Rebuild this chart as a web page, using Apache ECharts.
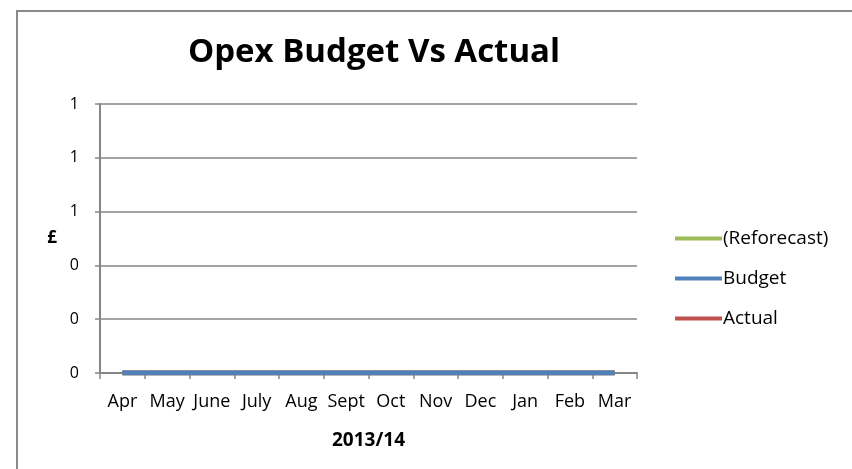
<!DOCTYPE html>
<html>
<head>
<meta charset="utf-8">
<script src="https://cdn.jsdelivr.net/npm/echarts@6/dist/echarts.min.js"></script>
<style>
html,body{margin:0;padding:0;background:#fff}
#frame{position:absolute;left:16px;top:10px;width:900px;height:500px;border-left:2px solid #8a8a8a;border-top:2px solid #8a8a8a}
#main{position:absolute;left:0;top:0;width:852px;height:469px}
</style>
</head>
<body>
<div id="frame"></div>
<div id="main"></div>
<script>
var months=['Apr','May','June','July','Aug','Sept','Oct','Nov','Dec','Jan','Feb','Mar']
var reforecast=[0,0,0,0,0,0,0,0,0,0,0,0]
var budget=[0,0,0,0,0,0,0,0,0,0,0,0]
var actual=[0,0,0,0,0,0,0,0,0,0,0,0]
var yTicks=['0','0','0','1','1','1'] // excel rounds 0.2 steps to whole numbers

var font='"Open Sans", sans-serif'
var myChart=echarts.init(document.getElementById('main'))
var option={
    animation:false,
    textStyle:{fontFamily:font},
    title:{
        text:'Opex Budget Vs Actual',
        left:369,
        top:31,
        textAlign:'center',
        textStyle:{fontSize:33,fontWeight:'bold',color:'#000',fontFamily:font}
    },
    legend:{
        orient:'vertical',
        left:670,
        top:224,
        itemWidth:47,
        itemHeight:4,
        itemGap:21,
        icon:'rect',
        textStyle:{fontSize:19,color:'#000',padding:[0,0,0,-4]},
        data:['(Reforecast)','Budget','Actual']
    },
    grid:{left:100,top:104,width:537,height:269},
    xAxis:{
        type:'category',
        data:months,
        name:'2013/14',
        nameLocation:'middle',
        nameGap:58,
        nameTextStyle:{fontSize:19,fontWeight:'bold',color:'#000'},
        axisLine:{lineStyle:{color:'#868686',width:2}},
        axisTick:{show:true,length:6,lineStyle:{color:'#868686',width:1.5}},
        axisLabel:{fontSize:18,color:'#000',margin:20,interval:0}
    },
    yAxis:{
        type:'value',
        min:0,max:1,interval:0.2,
        name:'£',
        nameLocation:'middle',
        nameRotate:0,
        nameGap:43,
        nameTextStyle:{fontSize:17,fontWeight:'bold',color:'#000'},
        axisLine:{show:true,lineStyle:{color:'#868686',width:2}},
        axisTick:{show:true,length:5,lineStyle:{color:'#868686',width:1.5}},
        splitLine:{lineStyle:{color:'#868686',width:1.5}},
        axisLabel:{fontSize:16,color:'#000',margin:21,
            formatter:function(v){return yTicks[Math.round(v/0.2)]}}
    },
    series:[
        {name:'(Reforecast)',type:'line',data:reforecast,symbol:'none',
         lineStyle:{width:5,color:'#9bbb59'},itemStyle:{color:'#9bbb59'},z:2},
        {name:'Actual',type:'line',data:actual,symbol:'none',
         lineStyle:{width:5,color:'#c0504d'},itemStyle:{color:'#c0504d'},z:3},
        {name:'Budget',type:'line',data:budget,symbol:'none',
         lineStyle:{width:5,color:'#4f81bd'},itemStyle:{color:'#4f81bd'},z:4}
    ]
}
myChart.setOption(option)
</script>
</body>
</html>
